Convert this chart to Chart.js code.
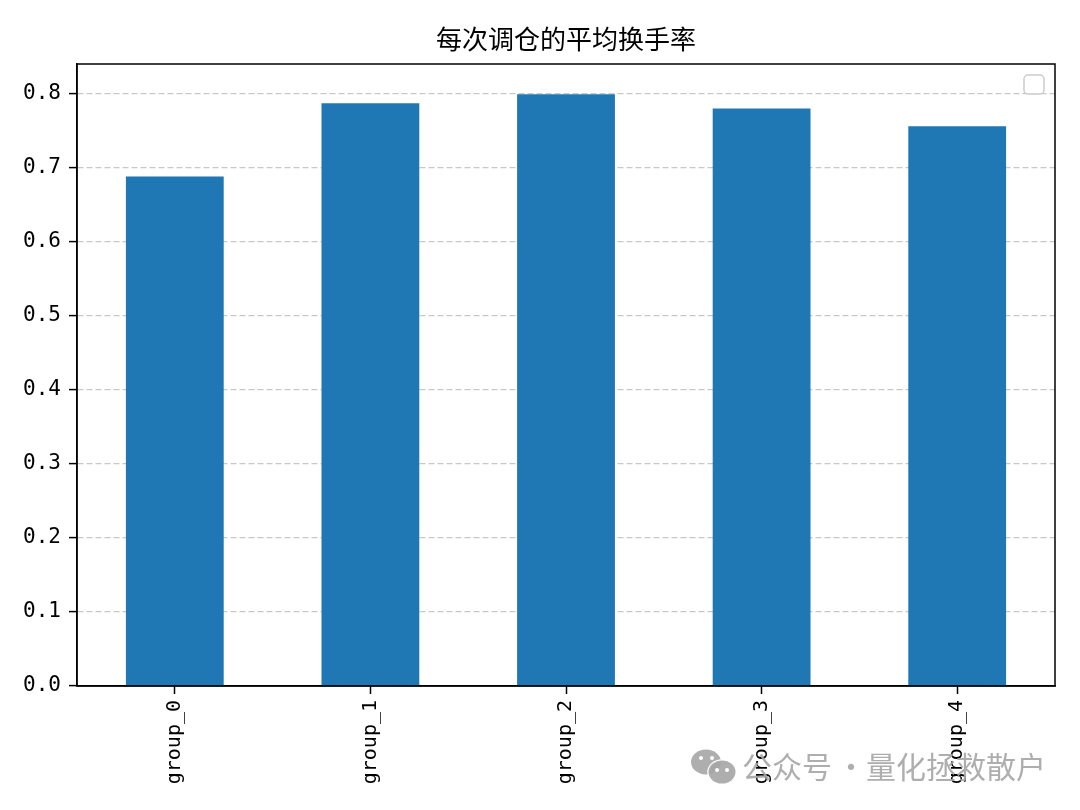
<!DOCTYPE html>
<html>
<head>
<meta charset="utf-8">
<script src="https://cdn.jsdelivr.net/npm/chart.js@4.4.1/dist/chart.umd.min.js"></script>
<style>
  html, body { margin: 0; padding: 0; background: #fff; }
  canvas { display: block; }
</style>
</head>
<body>
<canvas id="turnoverChart" width="1080" height="810"></canvas>
<script>
// data
var groups = ['group_0', 'group_1', 'group_2', 'group_3', 'group_4'];
var avgTurnover = [0.688, 0.787, 0.799, 0.780, 0.756];
var yTicks = [0, 0.1, 0.2, 0.3, 0.4, 0.5, 0.6, 0.7, 0.8];
var chartTitle = '每次调仓的平均换手率';

var monoFont = '"DejaVu Sans Mono", "Liberation Mono", monospace';
var cjkFont = '"Noto Sans CJK SC", "Noto Sans", sans-serif';

// frame, empty legend box and the watermark
var extras = {
    id: 'extras',
    afterDraw: function(chart){
        var c = chart.ctx, a = chart.chartArea;
        c.save();
        c.setLineDash([]);
        c.strokeStyle = '#000';
        c.lineWidth = 1.5;
        c.strokeRect(a.left, a.top, a.right - a.left, a.bottom - a.top);

        // matplotlib legend without entries
        c.strokeStyle = '#cccccc';
        c.lineWidth = 1.5;
        c.fillStyle = 'rgba(255,255,255,0.8)';
        c.beginPath();
        c.roundRect(a.right - 31, a.top + 11, 20, 19, 4);
        c.fill();
        c.stroke();

        // watermark
        var grey = 'rgba(165,165,165,0.9)';
        c.fillStyle = grey;
        c.beginPath();
        c.ellipse(706, 762, 15, 12.5, 0, 0, Math.PI * 2);
        c.fill();
        c.strokeStyle = '#fff';
        c.lineWidth = 2.5;
        c.beginPath();
        c.ellipse(722, 772, 13.5, 11.5, 0, 0, Math.PI * 2);
        c.stroke();
        c.fill();
        c.fillStyle = '#fff';
        [[701, 758], [712, 758], [717, 770], [727, 770]].forEach(function(p){
            c.beginPath();
            c.arc(p[0], p[1], 2, 0, Math.PI * 2);
            c.fill();
        });
        c.fillStyle = grey;
        c.font = '30px ' + cjkFont;
        c.textBaseline = 'middle';
        c.textAlign = 'left';
        c.fillText('公众号', 742, 767);
        c.fillText('量化拯救散户', 866, 767);
        c.textAlign = 'center';
        c.fillText('·', 851, 767);
        c.restore();
    }
};

var chart = new Chart(document.getElementById('turnoverChart').getContext('2d'), {
    type: 'bar',
    data: {
        labels: groups,
        datasets: [
            { label: '', data: avgTurnover, backgroundColor: '#1f77b4',
              barPercentage: 0.5, categoryPercentage: 1.0 }
        ]
    },
    options: {
        responsive: false,
        animation: false,
        devicePixelRatio: 1,
        layout: { padding: { left: 0, right: 25, top: 0, bottom: 0 } },
        plugins: {
            legend: { display: false },
            tooltip: { enabled: false },
            title: { display: false }
        },
        scales: {
            x: {
                grid: { offset: false, drawOnChartArea: false, drawTicks: true, tickLength: 8, tickColor: '#000', tickWidth: 1.5 },
                border: { color: '#000', width: 1.5 },
                ticks: {
                    color: '#000', minRotation: 90, maxRotation: 90, padding: 6,
                    font: { family: monoFont, size: 20 }
                },
                afterFit: function(s){ s.height = 124; }
            },
            // top axis only carries the title so it centres over the plot area
            top: {
                type: 'category',
                position: 'top',
                labels: groups,
                grid: { display: false, drawTicks: false },
                border: { display: false },
                ticks: { display: false },
                title: {
                    display: true,
                    text: chartTitle,
                    color: '#000',
                    font: { family: cjkFont, size: 26, weight: 'normal' },
                    padding: { top: 24, bottom: 9 }
                },
                afterFit: function(s){ s.height = 64; }
            },
            y: {
                min: 0,
                max: 0.84,
                grid: {
                    color: '#c8c8c8', lineWidth: 1.2,
                    tickLength: 8, tickColor: '#000', tickWidth: 1.5, tickBorderDash: []
                },
                border: { color: '#000', width: 1.5, dash: [6, 3] },
                ticks: {
                    color: '#000', padding: 8,
                    font: { family: monoFont, size: 21 },
                    callback: function(v){ return v.toFixed(1); }
                },
                afterBuildTicks: function(s){
                    s.ticks = yTicks.map(function(v){ return { value: v }; });
                },
                afterFit: function(s){ s.width = 77; }
            }
        }
    },
    plugins: [extras]
});
</script>
</body>
</html>
